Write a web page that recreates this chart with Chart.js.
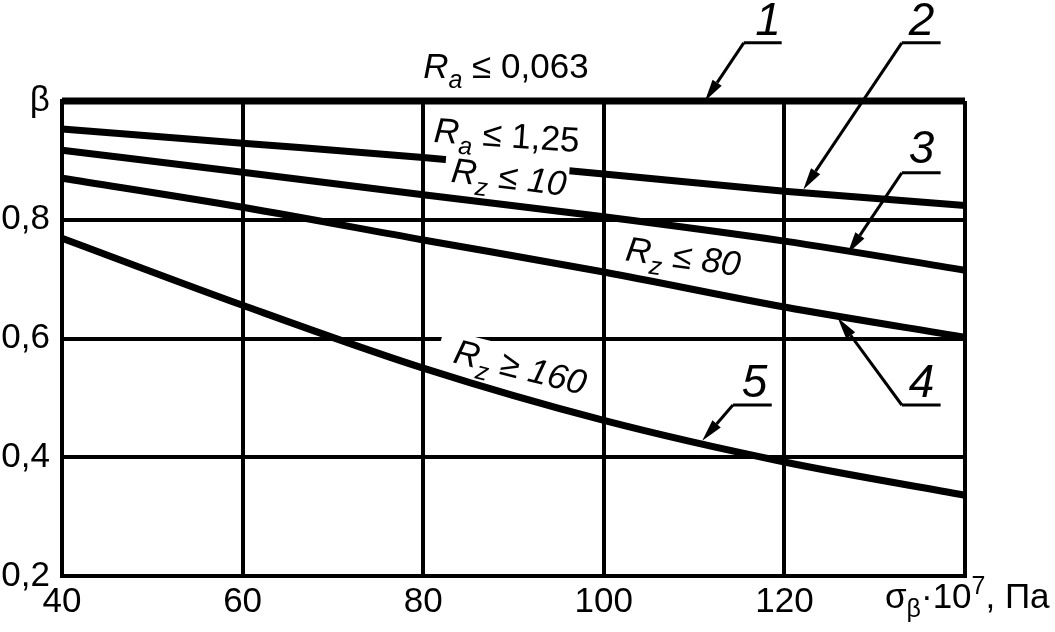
<!DOCTYPE html>
<html>
<head>
<meta charset="utf-8">
<script src="https://cdn.jsdelivr.net/npm/chart.js@4.4.0/dist/chart.umd.min.js"></script>
<style>
  html, body { margin: 0; padding: 0; background: #fff; }
  #wrap { width: 1055px; height: 632px; position: relative; }
</style>
</head>
<body>
<div id="wrap"><canvas id="chart"></canvas></div>
<script>
// Data (stress in 10^7 Pa, beta)
const stress = [40, 60, 80, 100, 120, 140];
const curve1 = [1, 1, 1, 1, 1, 1];            // Ra <= 0,063
const curve2 = [0.953, 0.929, 0.905, 0.877, 0.848, 0.824];  // Ra <= 1,25
const curve3 = [0.917, 0.880, 0.842, 0.805, 0.764, 0.715];  // Rz <= 10
const curve4 = [0.870, 0.821, 0.766, 0.712, 0.653, 0.602];  // Rz <= 80
const curve5 = [0.769, 0.656, 0.550, 0.462, 0.392, 0.336];  // Rz >= 160
const yTicks = [0.2, 0.4, 0.6, 0.8, 1.0];

const FONT = '"Liberation Sans", Arial, sans-serif';

function pairs(xs, ys) {
    return xs.map((x, i) => ({ x: x, y: ys[i] }));
}

function curve(xs, ys) {
    return {
        data: pairs(xs, ys),
        borderColor: '#000',
        borderWidth: 7,
        pointRadius: 0,
        fill: false,
        cubicInterpolationMode: 'monotone',
        clip: false
    };
}

// rich text pieces
function part(text, size, italic, dy) {
    return { text: text, size: size, italic: !!italic, dy: dy || 0 };
}

const labels = [
    { x: 80.0, y: 1.039, angle: 0, parts: [part('R', 35, true), part('a', 25, true, 10), part(' \u2264 0,063', 35)] },
    { x: 81.1, y: 0.931, angle: 4, box: [14, -28, 138, 28], parts: [part('R', 35, true), part('a', 25, true, 10), part(' \u2264 1,25', 35)] },
    { x: 83.0, y: 0.864, angle: 7, parts: [part('R', 35, true), part('z', 25, true, 10), part(' \u2264 ', 35), part('10', 35, true)] },
    { x: 102.3, y: 0.732, angle: 8, parts: [part('R', 35, true), part('z', 25, true, 10), part(' \u2264 ', 35), part('80', 35, true)] },
    { x: 83.2, y: 0.560, angle: 14, box: [-16, -30, 40, 6], parts: [part('R', 35, true), part('z', 25, true, 10), part(' \u2265 ', 35), part('160', 35, true)] }
];

// callouts: number, number baseline centre, underline, arrow tip
const callouts = [
    { n: '1', tx: 118.2, ty: 1.111, ux1: 115.5, ux2: 119.7, uy: 1.098, tipX: 111.2, tipY: 1.0 },
    { n: '2', tx: 135.2, ty: 1.111, ux1: 133.0, ux2: 137.3, uy: 1.098, tipX: 122.1, tipY: 0.851 },
    { n: '3', tx: 135.2, ty: 0.896, ux1: 133.0, ux2: 137.3, uy: 0.879, tipX: 127.0, tipY: 0.743 },
    { n: '4', tx: 135.2, ty: 0.501, ux1: 133.0, ux2: 137.3, uy: 0.488, tipX: 125.9, tipY: 0.635 },
    { n: '5', tx: 116.7, ty: 0.501, ux1: 114.3, ux2: 118.6, uy: 0.488, tipX: 110.9, tipY: 0.428 }
];

function drawRich(ctx, parts, x, y, angle, box) {
    ctx.save();
    ctx.translate(x, y);
    ctx.rotate(angle * Math.PI / 180);
    if (box) {
        ctx.fillStyle = '#fff';
        ctx.fillRect(box[0], box[1], box[2] - box[0], box[3] - box[1]);
    }
    ctx.fillStyle = '#000';
    ctx.textAlign = 'left';
    ctx.textBaseline = 'alphabetic';
    let cx = 0;
    parts.forEach(p => {
        ctx.font = (p.italic ? 'italic ' : '') + p.size + 'px ' + FONT;
        ctx.fillText(p.text, cx, p.dy);
        cx += ctx.measureText(p.text).width;
    });
    ctx.restore();
}

function drawArrow(ctx, x1, y1, x2, y2) {
    const ang = Math.atan2(y2 - y1, x2 - x1);
    const len = 22, half = 5.5;
    const bx = x2 - len * Math.cos(ang), by = y2 - len * Math.sin(ang);
    ctx.beginPath();
    ctx.moveTo(x1, y1);
    ctx.lineTo(bx, by);
    ctx.stroke();
    ctx.beginPath();
    ctx.moveTo(x2, y2);
    ctx.lineTo(bx + half * Math.sin(ang), by - half * Math.cos(ang));
    ctx.lineTo(bx - half * Math.sin(ang), by + half * Math.cos(ang));
    ctx.closePath();
    ctx.fill();
}

const annotations = {
    id: 'annotations',
    afterDatasetsDraw(chart) {
        const ctx = chart.ctx;
        const xs = chart.scales.x, ys = chart.scales.y;

        labels.forEach(l => {
            drawRich(ctx, l.parts, xs.getPixelForValue(l.x), ys.getPixelForValue(l.y), l.angle, l.box);
        });

        ctx.save();
        ctx.strokeStyle = '#000';
        ctx.fillStyle = '#000';
        ctx.lineWidth = 3;
        callouts.forEach(c => {
            const u1 = xs.getPixelForValue(c.ux1), u2 = xs.getPixelForValue(c.ux2);
            const uy = ys.getPixelForValue(c.uy);
            ctx.beginPath();
            ctx.moveTo(u1, uy);
            ctx.lineTo(u2, uy);
            ctx.stroke();
            drawArrow(ctx, u1, uy, xs.getPixelForValue(c.tipX), ys.getPixelForValue(c.tipY));
            ctx.font = 'italic 46px ' + FONT;
            ctx.textAlign = 'center';
            ctx.textBaseline = 'alphabetic';
            ctx.fillText(c.n, xs.getPixelForValue(c.tx), ys.getPixelForValue(c.ty));
        });
        ctx.restore();

        // x axis title in place of the last tick
        const tx = xs.getPixelForValue(140) - 80;
        const ty = chart.chartArea.bottom + 32;
        drawRich(ctx, [
            part('\u03c3', 35), part('\u03b2', 25, false, 9), part('\u00b710', 35),
            part('7', 25, false, -14), part(', \u041f\u0430', 35)
        ], tx, ty, 0);
    }
};

const ctx = document.getElementById('chart').getContext('2d');
new Chart(ctx, {
    type: 'line',
    data: {
        datasets: [
            curve(stress, curve1),
            curve(stress, curve2),
            curve(stress, curve3),
            curve(stress, curve4),
            curve(stress, curve5)
        ]
    },
    options: {
        responsive: true,
        maintainAspectRatio: false,
        animation: false,
        layout: { padding: { top: 101, right: 90, bottom: 0, left: 0 } },
        plugins: { legend: { display: false }, tooltip: { enabled: false } },
        scales: {
            x: {
                type: 'linear',
                min: 40,
                max: 140,
                afterFit: s => { s.height = 56; },
                ticks: {
                    stepSize: 20,
                    color: '#000',
                    padding: 5,
                    maxRotation: 0,
                    font: { family: FONT, size: 35 },
                    callback: v => (v === 140 ? '' : String(v))
                },
                grid: { color: '#000', lineWidth: 4, drawTicks: false },
                border: { color: '#000', width: 4 }
            },
            y: {
                min: 0.2,
                max: 1.0,
                afterFit: s => { s.width = 62; },
                afterBuildTicks: s => { s.ticks = yTicks.map(v => ({ value: v })); },
                ticks: {
                    color: '#000',
                    padding: 12,
                    font: { family: FONT, size: 35 },
                    callback: v => (Math.abs(v - 1) < 1e-6 ? '\u03b2' : v.toFixed(1).replace('.', ','))
                },
                grid: { color: '#000', lineWidth: 4, drawTicks: false },
                border: { color: '#000', width: 4 }
            }
        }
    },
    plugins: [annotations]
});
</script>
</body>
</html>
